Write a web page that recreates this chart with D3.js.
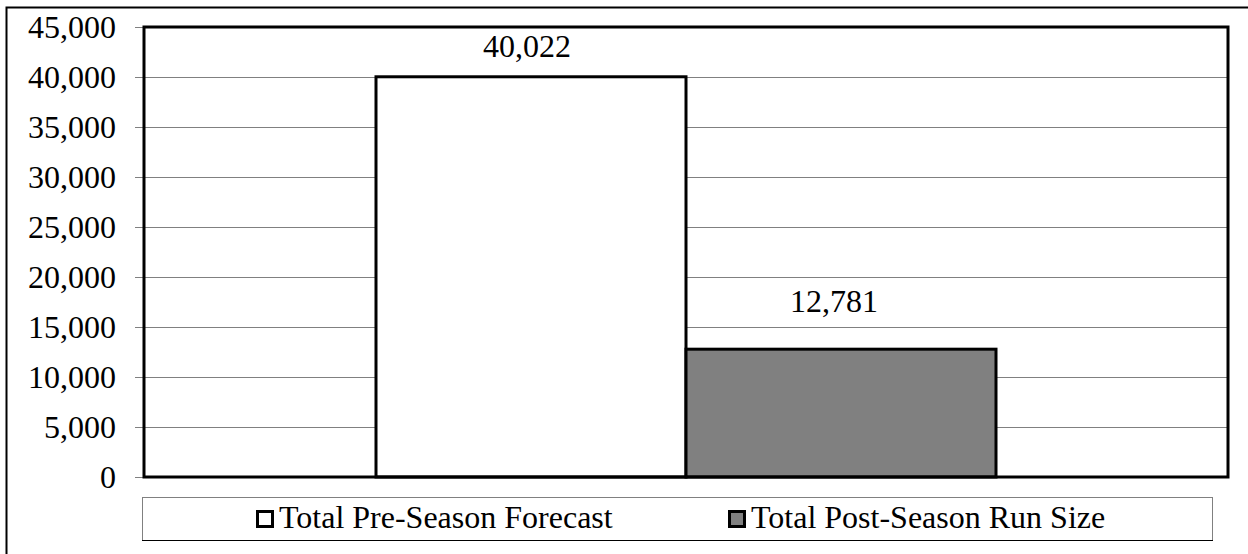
<!DOCTYPE html>
<html>
<head>
<meta charset="utf-8">
<script src="https://cdn.jsdelivr.net/npm/d3@7"></script>
<style>
  body { margin: 0; background: #fff; }
</style>
</head>
<body>
<div id="chart"></div>
<script>
const width = 1248;
const height = 554;
const fontFamily = "'Liberation Serif'";

// data
const seriesNames = ["Total Pre-Season Forecast", "Total Post-Season Run Size"];
const seriesValues = [40022, 12781];
const seriesColors = ["#ffffff", "#808080"];
const yTicks = [0, 5000, 10000, 15000, 20000, 25000, 30000, 35000, 40000, 45000];

// label nudges (labels were moved by hand in the original)
const labelDx = [-4, -7];
const labelDy = [-20, -37];

const plot = { left: 144, right: 1228, top: 27, bottom: 477 };

const svg = d3.select("#chart")
  .append("svg")
  .attr("width", width)
  .attr("height", height)
  .style("display", "block");

// outer chart border (cropped on right and bottom)
svg.append("rect")
  .attr("x", 6.5).attr("y", 7.5)
  .attr("width", 1300).attr("height", 600)
  .attr("fill", "none").attr("stroke", "#000").attr("stroke-width", 2);

const y = d3.scaleLinear().domain([0, 45000]).range([plot.bottom, plot.top]);

// one category, two series side by side (gap width 150%)
const x = d3.scaleBand()
  .domain(seriesNames)
  .range([376, 996]);

// gridlines
svg.append("g")
  .selectAll("line")
  .data(yTicks)
  .join("line")
  .attr("x1", 135).attr("x2", plot.right)
  .attr("y1", d => Math.round(y(d)) + 0.5)
  .attr("y2", d => Math.round(y(d)) + 0.5)
  .attr("stroke", "#808080").attr("stroke-width", 1);

// y axis labels
const fmt = d3.format(",");
svg.append("g")
  .selectAll("text")
  .data(yTicks)
  .join("text")
  .attr("x", 116)
  .attr("y", d => y(d))
  .attr("dy", "0.34em")
  .attr("text-anchor", "end")
  .style("font-family", fontFamily)
  .attr("font-size", 32)
  .text(d => fmt(d));

// bars
svg.append("g")
  .selectAll("rect")
  .data(seriesValues)
  .join("rect")
  .attr("x", (d, i) => x(seriesNames[i]))
  .attr("y", d => y(d))
  .attr("width", x.bandwidth())
  .attr("height", d => y(0) - y(d))
  .attr("fill", (d, i) => seriesColors[i])
  .attr("stroke", "#000").attr("stroke-width", 3);

// data labels
svg.append("g")
  .selectAll("text")
  .data(seriesValues)
  .join("text")
  .attr("x", (d, i) => x(seriesNames[i]) + x.bandwidth() / 2 + labelDx[i])
  .attr("y", (d, i) => y(d) + labelDy[i])
  .attr("text-anchor", "middle")
  .style("font-family", fontFamily)
  .attr("font-size", 32)
  .text(d => fmt(d));

// plot area border
svg.append("rect")
  .attr("x", plot.left).attr("y", plot.top)
  .attr("width", plot.right - plot.left).attr("height", plot.bottom - plot.top)
  .attr("fill", "none").attr("stroke", "#000").attr("stroke-width", 3);

// legend
svg.append("rect")
  .attr("x", 142.5).attr("y", 497.5)
  .attr("width", 1070).attr("height", 43)
  .attr("fill", "#fff").attr("stroke", "#808080").attr("stroke-width", 1);
svg.append("line")
  .attr("x1", 142).attr("x2", 1213).attr("y1", 540.5).attr("y2", 540.5)
  .attr("stroke", "#000");

const legendX = [256, 728];
const legend = svg.append("g")
  .selectAll("g")
  .data(seriesNames)
  .join("g")
  .attr("transform", (d, i) => `translate(${legendX[i]},0)`);
legend.append("rect")
  .attr("x", 1.5).attr("y", 511.5)
  .attr("width", 15).attr("height", 15)
  .attr("fill", (d, i) => seriesColors[i])
  .attr("stroke", "#000").attr("stroke-width", 3);
legend.append("text")
  .attr("x", 23)
  .attr("y", 528)
  .style("font-family", fontFamily)
  .attr("font-size", 32)
  .text(d => d);
</script>
</body>
</html>
